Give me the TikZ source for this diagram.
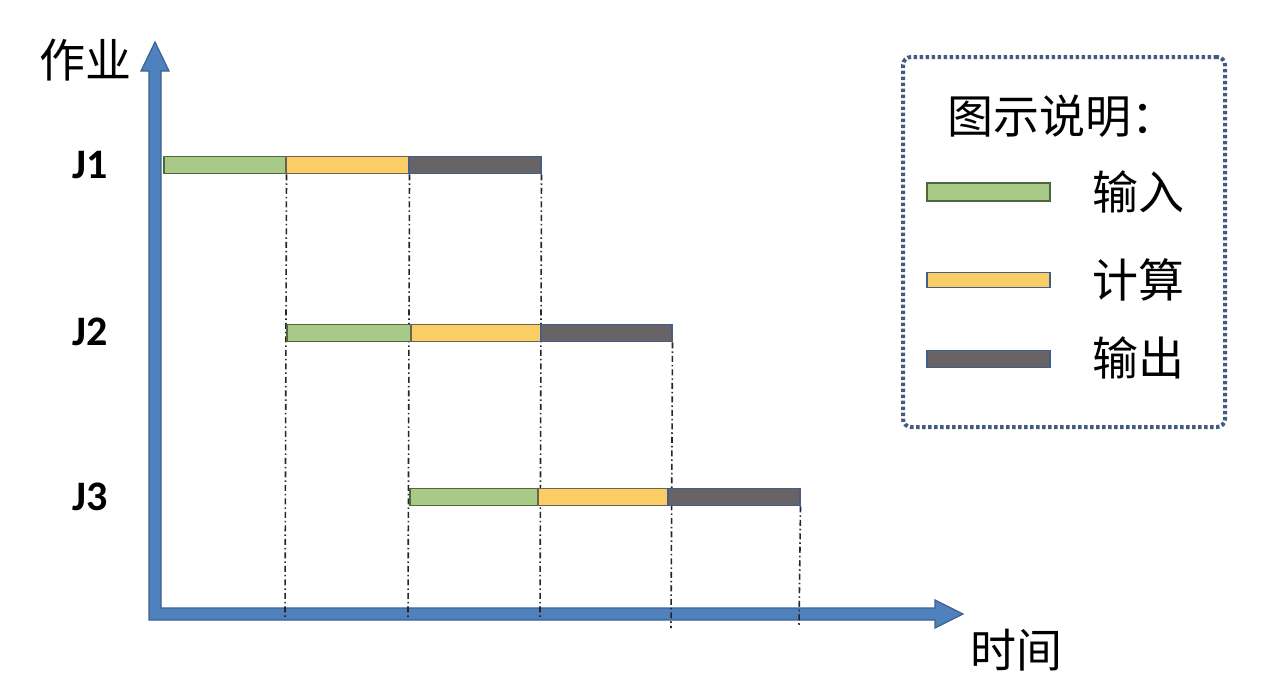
\documentclass[tikz,border=0pt]{standalone}
\usepackage{fontspec}
\newfontfamily\cjk{Noto Sans CJK SC}
\newfontfamily\jfont{Carlito}
\usetikzlibrary{backgrounds}
\definecolor{axisblue}{RGB}{79,129,189}
\definecolor{axisline}{RGB}{60,98,145}
\definecolor{ingreen}{RGB}{169,201,136}
\definecolor{ingreenline}{RGB}{78,104,58}
\definecolor{calyellow}{RGB}{250,206,100}
\definecolor{calyellowline}{RGB}{105,100,85}
\definecolor{outgray}{RGB}{104,99,101}
\definecolor{outgrayline}{RGB}{68,94,138}
\definecolor{legendline}{RGB}{66,92,126}
\begin{document}
\begin{tikzpicture}[x=1pt, y=-1pt,
        bar/.style={draw, line width=1.5pt, minimum height=17pt, inner sep=0pt, anchor=west},
        in bar/.style={bar, fill=ingreen, draw=ingreenline},
        cal bar/.style={bar, fill=calyellow, draw=calyellowline},
        out bar/.style={bar, fill=outgray, draw=outgrayline},
        job/.style={font=\jfont\bfseries\fontsize{42}{42}\selectfont},
        cjk text/.style={font=\cjk\fontsize{46}{46}\selectfont, inner sep=0pt},
        guide/.style={draw, line width=1.6pt, black!85, dash pattern=on 6pt off 3pt on 1.5pt off 3pt},
        axis shape/.style={fill=axisblue, draw=axisline, line width=1.2pt, line join=miter},
        legend box/.style={draw=legendline, line width=4pt, dash pattern=on 3.5pt off 2.5pt, rounded corners=8pt, inner sep=0pt},
    ]
	\useasboundingbox (0,0) rectangle (1277,688);
	\node[in bar, minimum width=122pt] (j1in) at (163,165) {};
	\node[cal bar, minimum width=123pt] (j1cal) at (285,165) {};
	\node[out bar, minimum width=132pt] (j1out) at (408,165) {};
	\node[in bar, minimum width=124pt] (j2in) at (286,333) {};
	\node[cal bar, minimum width=130pt] (j2cal) at (410,333) {};
	\node[out bar, minimum width=131pt] (j2out) at (540,333) {};
	\node[in bar, minimum width=128pt] (j3in) at (409,497) {};
	\node[cal bar, minimum width=130pt] (j3cal) at (537,497) {};
	\node[out bar, minimum width=132pt] (j3out) at (667,497) {};
	\coordinate (m1) at (285,617);
	\coordinate (m2) at (408,617);
	\coordinate (m3) at (540,617);
	\coordinate (m4) at (671,628);
	\coordinate (m5) at (799,626);
	\begin{pgfonlayer}{background}
	\draw[axis shape] (155,42) -- (169,71) -- (161,71) -- (161,608) -- (935,608) -- (935,600)
		-- (963,614) -- (935,628) -- (935,620) -- (149,620) -- (149,71) -- (141,71) -- cycle;
	\draw[guide] (j1in.south east) -- (m1);
	\draw[guide] (j1cal.south east) -- (m2);
	\draw[guide] (j1out.south east) -- (m3);
	\draw[guide] (j2out.south east) -- (m4);
	\draw[guide] (j3out.south east) -- (m5);
	\end{pgfonlayer}
	\node[job] (j1) at (90,165) {J1};
	\node[job] (j2) at (90,332) {J2};
	\node[job] (j3) at (90,497) {J3};
	\node[cjk text] (ylab) at (85,60) {作业};
	\node[cjk text] (xlab) at (1016,650) {时间};
	\node[legend box, minimum width=322pt, minimum height=370pt] (lgbox) at (1064,242) {};
	\node[cjk text, anchor=west] (lgtitle) at (947,116) {图示说明：};
	\node[in bar, minimum width=123pt, minimum height=18pt] (lgin) at (926,192) {};
	\node[cal bar, minimum width=123pt, minimum height=15pt, draw=outgrayline] (lgcal) at (926,280) {};
	\node[out bar, minimum width=123pt] (lgout) at (926,359) {};
	\node[cjk text] (lgintext) at (1138,192) {输入};
	\node[cjk text] (lgcaltext) at (1138,280) {计算};
	\node[cjk text] (lgouttext) at (1138,358) {输出};
\end{tikzpicture}
\end{document}
